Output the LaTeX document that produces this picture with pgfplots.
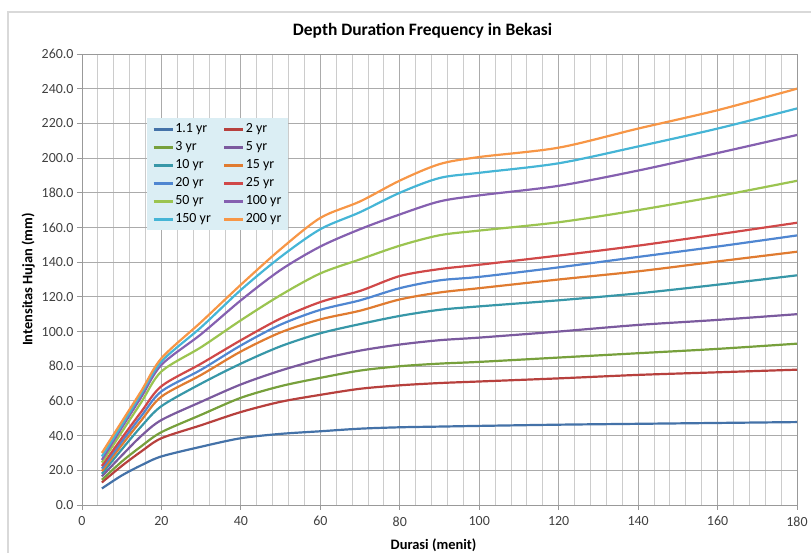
\documentclass[border=0pt]{standalone}
\usepackage{fontspec}
\setmainfont{Carlito}
\usepackage{pgfplots}
\usepackage{pgfplotstable}
\pgfplotsset{compat=1.18}

% Excel-like series colours
\definecolor{s1}{HTML}{4472A8}
\definecolor{s2}{HTML}{B7403D}
\definecolor{s3}{HTML}{77A03C}
\definecolor{s5}{HTML}{7B5A9E}
\definecolor{s10}{HTML}{3797A8}
\definecolor{s15}{HTML}{E07B30}
\definecolor{s20}{HTML}{4F86D1}
\definecolor{s25}{HTML}{D04848}
\definecolor{s50}{HTML}{9BC450}
\definecolor{s100}{HTML}{8560B0}
\definecolor{s150}{HTML}{45B5D6}
\definecolor{s200}{HTML}{F79646}
\definecolor{legbg}{HTML}{DBEEF4}

% durasi (menit) vs intensitas hujan (mm) per return period
\pgfplotstableread{
t    r1    r2    r3    r5    r10   r15   r20   r25   r50   r100  r150  r200
5    9.5   13    14.5  16.5  18    19.5  21    22.5  24.5  26    28    30
10   17    22.5  25    28.5  32    34.5  36.5  38.5  42    44.5  46    48
15   23    31    34    40    45.5  49    51.5  54    59.5  62.5  64.5  66
20   28    38.5  42    49    57    62.5  65.5  68.5  77    80.8  82.7  84.6
30   33.6  46    52    59.5  70    75    78    81.5  91    98.5  102.5 105.5
40   38.5  53.6  61.8  69.5  81.5  88.5  92    95    106.5 118   124   127
50   41    59.5  68.5  77.5  91.5  99.5  104   107.5 121   135.5 143   147.5
60   42.5  63.5  73.3  84    99    107   112.5 117   133.5 149   159   165.5
70   44    67    77.5  89    104.3 112   118   123.4 141.6 159   168.8 175
80   44.8  69    80    92.5  109   118.5 125   132   149.5 167.5 180   187
90   45.2  70.3  81.5  95    112.5 122.5 129.5 136   155.5 175   188.5 196.5
100  45.6  71.2  82.5  96.5  114.5 125   131.5 138.5 158.2 178.5 191.5 200.6
120  46.3  73    85    100   118   130   137   143.8 163   184   197   206
140  46.8  75    87.5  103.8 122   134.7 143   149.5 170   192.8 206.7 217
160  47.3  76.5  90    106.7 127   140.4 149   156   178   202.9 217   227.6
180  47.8  78    93    110   132.4 146   155.4 162.7 186.9 213.3 228.6 240
}\ddf

\begin{document}
\begin{tikzpicture}[x=1bp,y=1bp]
\useasboundingbox (0,0) rectangle (811,553);
\draw[black!15, line width=1.2bp] (8,-10) -- (8,541) -- (840,541);
\begin{axis}[
  at={(82bp,48bp)}, anchor=south west,
  width=715bp, height=451bp, scale only axis,
  xmin=0, xmax=180, ymin=0, ymax=260,
  xtick={0,20,...,180}, minor x tick num=4,
  ytick={0,20,...,260},
  grid=both,
  major grid style={black!33, line width=0.9bp},
  minor grid style={black!20, line width=0.9bp},
  axis line style={black!40, line width=0.9bp},
  tick align=outside, tick pos=left,
  major tick length=5bp, minor tick length=0bp,
  tick style={black!40, line width=0.9bp},
  /pgf/number format/assume math mode=true,
  yticklabel style={/pgf/number format/.cd, fixed, fixed zerofill, precision=1},
  xticklabel style={yshift=-3bp},
  ticklabel style={font=\fontsize{14}{16}\selectfont, text=black!75},
  xlabel={\textbf{Durasi (menit)}},
  ylabel={\textbf{Intensitas Hujan (mm)}},
  xlabel style={yshift=-6bp, xshift=-6bp},
  label style={font=\fontsize{14.5}{16}\selectfont},
  title={\textbf{Depth Duration Frequency in Bekasi}},
  title style={at={(0.5,1)}, anchor=base, yshift=13bp, xshift=-17bp,
    font=\fontsize{17.5}{20}\selectfont},
  legend columns=2,
  legend cell align=left,
  legend style={at={(axis cs:16.4,223)}, anchor=north west,
    fill=legbg, draw=none, font=\fontsize{14}{16}\selectfont,
    inner xsep=5bp, inner ysep=3bp, row sep=2bp,
    nodes={inner sep=1.5bp, text height=10bp, text depth=3bp}},
  legend image code/.code={\draw[#1, line width=2.5bp] (0bp,0bp) -- (19bp,0bp);},
  every axis plot/.append style={line width=2.2bp, smooth, no markers},
]
\addplot[s1]   table[x=t, y=r1]   {\ddf}; \addlegendentry{\makebox[46bp][l]{1.1 yr}}
\addplot[s2]   table[x=t, y=r2]   {\ddf}; \addlegendentry{2 yr}
\addplot[s3]   table[x=t, y=r3]   {\ddf}; \addlegendentry{\makebox[46bp][l]{3 yr}}
\addplot[s5]   table[x=t, y=r5]   {\ddf}; \addlegendentry{5 yr}
\addplot[s10]  table[x=t, y=r10]  {\ddf}; \addlegendentry{\makebox[46bp][l]{10 yr}}
\addplot[s15]  table[x=t, y=r15]  {\ddf}; \addlegendentry{15 yr}
\addplot[s20]  table[x=t, y=r20]  {\ddf}; \addlegendentry{\makebox[46bp][l]{20 yr}}
\addplot[s25]  table[x=t, y=r25]  {\ddf}; \addlegendentry{25 yr}
\addplot[s50]  table[x=t, y=r50]  {\ddf}; \addlegendentry{\makebox[46bp][l]{50 yr}}
\addplot[s100] table[x=t, y=r100] {\ddf}; \addlegendentry{100 yr}
\addplot[s150] table[x=t, y=r150] {\ddf}; \addlegendentry{\makebox[46bp][l]{150 yr}}
\addplot[s200] table[x=t, y=r200] {\ddf}; \addlegendentry{200 yr}
\end{axis}
\end{tikzpicture}
\end{document}
